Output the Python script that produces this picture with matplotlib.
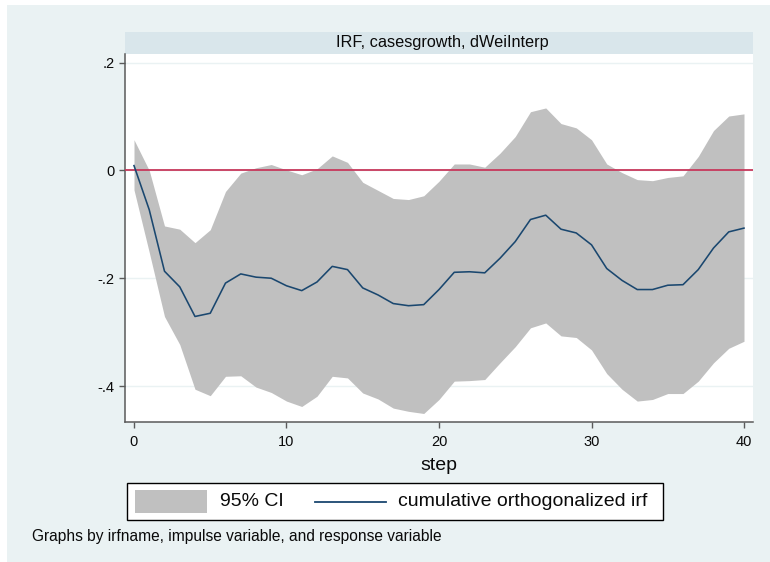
import matplotlib
matplotlib.use("Agg")
import matplotlib.pyplot as plt
from matplotlib.patches import Rectangle
from matplotlib.lines import Line2D

plt.rcParams['font.family'] = ['Liberation Sans', 'DejaVu Sans']

# Impulse-response data: steps 0..40
steps = list(range(41))
irf = [0.009, -0.073, -0.187, -0.216, -0.271, -0.265, -0.209, -0.192, -0.198, -0.200,
       -0.214, -0.223, -0.207, -0.178, -0.184, -0.218, -0.231, -0.247, -0.251, -0.249,
       -0.221, -0.189, -0.188, -0.190, -0.163, -0.132, -0.091, -0.083, -0.109, -0.116,
       -0.138, -0.182, -0.204, -0.221, -0.221, -0.213, -0.212, -0.184, -0.144, -0.114,
       -0.107]
ci_upper = [0.057, 0.000, -0.103, -0.109, -0.134, -0.110, -0.039, -0.005, 0.005, 0.011,
            0.001, -0.008, 0.003, 0.027, 0.015, -0.022, -0.037, -0.052, -0.054, -0.047,
            -0.020, 0.012, 0.012, 0.006, 0.032, 0.063, 0.109, 0.116, 0.087, 0.079,
            0.057, 0.012, -0.004, -0.017, -0.019, -0.013, -0.010, 0.026, 0.074, 0.101,
            0.105]
ci_lower = [-0.036, -0.152, -0.271, -0.323, -0.406, -0.418, -0.382, -0.381, -0.402, -0.412,
            -0.428, -0.438, -0.419, -0.382, -0.385, -0.413, -0.424, -0.441, -0.447, -0.451,
            -0.425, -0.391, -0.390, -0.388, -0.357, -0.327, -0.292, -0.283, -0.307, -0.310,
            -0.333, -0.377, -0.406, -0.428, -0.425, -0.414, -0.414, -0.391, -0.357, -0.330,
            -0.317]

x_ticks = [0, 10, 20, 30, 40]
y_ticks = [-0.4, -0.2, 0.0, 0.2]
y_ticklabels = ['-.4', '-.2', '0', '.2']

panel_title = 'IRF, casesgrowth, dWeiInterp'
x_title = 'step'
legend_labels = ['95% CI', 'cumulative orthogonalized irf']
note = 'Graphs by irfname, impulse variable, and response variable'

BG = '#EAF2F3'
STRIP = '#D9E6EB'
CI_COLOR = '#C0C0C0'
LINE_COLOR = '#1A476F'
ZERO_COLOR = '#C7385C'
AXIS_COLOR = '#5A5A5A'
TEXT_COLOR = '#0A0A0A'

W, H = 770, 562
fig = plt.figure(figsize=(W / 100, H / 100), dpi=100, facecolor='white')

def fx(px):
    return px / W

def fy(py):
    return 1 - py / H

# graph region background (drawn beneath the axes)
fig.patches.append(Rectangle((fx(7), 0), 1 - fx(7), fy(5), transform=fig.transFigure,
                             facecolor=BG, edgecolor='none', zorder=-3))

# plot region
left, right, top, bottom = 125, 753, 54, 422
ax = fig.add_axes([fx(left), fy(bottom), fx(right - left), (bottom - top) / H])
ax.set_facecolor('white')
ax.set_zorder(1)

# panel title strip
fig.patches.append(Rectangle((fx(left), fy(53.5)), fx(right - left), 21 / H,
                             transform=fig.transFigure, facecolor=STRIP,
                             edgecolor='none', zorder=-2))
fig.text(fx((left + right) / 2) + fx(3), fy(43), panel_title, ha='center', va='center',
         fontsize=11.7, color=TEXT_COLOR)

ax.fill_between(steps, ci_lower, ci_upper, color=CI_COLOR, linewidth=0, zorder=2)
ax.plot(steps, irf, color=LINE_COLOR, linewidth=1.15, zorder=4)
ax.axhline(0, color=ZERO_COLOR, linewidth=1.3, zorder=3)

ax.set_xlim(-0.59, 40.59)
ax.set_ylim(-0.4668, 0.2161)
ax.set_xticks(x_ticks)
ax.set_yticks(y_ticks)
ax.set_yticklabels(y_ticklabels)
ax.yaxis.grid(True, color=BG, linewidth=1.0, zorder=1)
ax.set_axisbelow(True)

for side in ('top', 'right'):
    ax.spines[side].set_visible(False)
for side in ('left', 'bottom'):
    ax.spines[side].set_color(AXIS_COLOR)
    ax.spines[side].set_linewidth(1.1)

ax.tick_params(axis='both', direction='out', length=4, width=1.0, color=AXIS_COLOR,
               labelsize=10.5, labelcolor=TEXT_COLOR)
ax.tick_params(axis='x', pad=5)
ax.tick_params(axis='y', pad=3.5)

ax.set_xlabel(x_title, fontsize=14, color=TEXT_COLOR, va='center')
ax.xaxis.set_label_coords(0.5, -(465 - bottom) / (bottom - top))

# legend box with its keys
fig.patches.append(Rectangle((fx(126.5), fy(520)), fx(662.5 - 126.5), 37 / H,
                             transform=fig.transFigure, facecolor='white',
                             edgecolor='black', linewidth=1.0, zorder=2))
fig.patches.append(Rectangle((fx(134.5), fy(512.5)), fx(72), 22.5 / H,
                             transform=fig.transFigure, facecolor=CI_COLOR,
                             edgecolor='none', zorder=3))
fig.lines.append(Line2D([fx(315), fx(386)], [fy(501.5), fy(501.5)],
                        transform=fig.transFigure, color=LINE_COLOR,
                        linewidth=1.3, zorder=3))
fig.text(fx(220), fy(501.5), legend_labels[0], ha='left', va='center',
         fontsize=14, color=TEXT_COLOR, zorder=4)
fig.text(fx(398.5), fy(501.5), legend_labels[1], ha='left', va='center',
         fontsize=14, color=TEXT_COLOR, zorder=4)

fig.text(fx(32), fy(536), note, ha='left', va='center', fontsize=11.2, color=TEXT_COLOR)

fig.savefig('out.png', dpi=100, facecolor=fig.get_facecolor())
